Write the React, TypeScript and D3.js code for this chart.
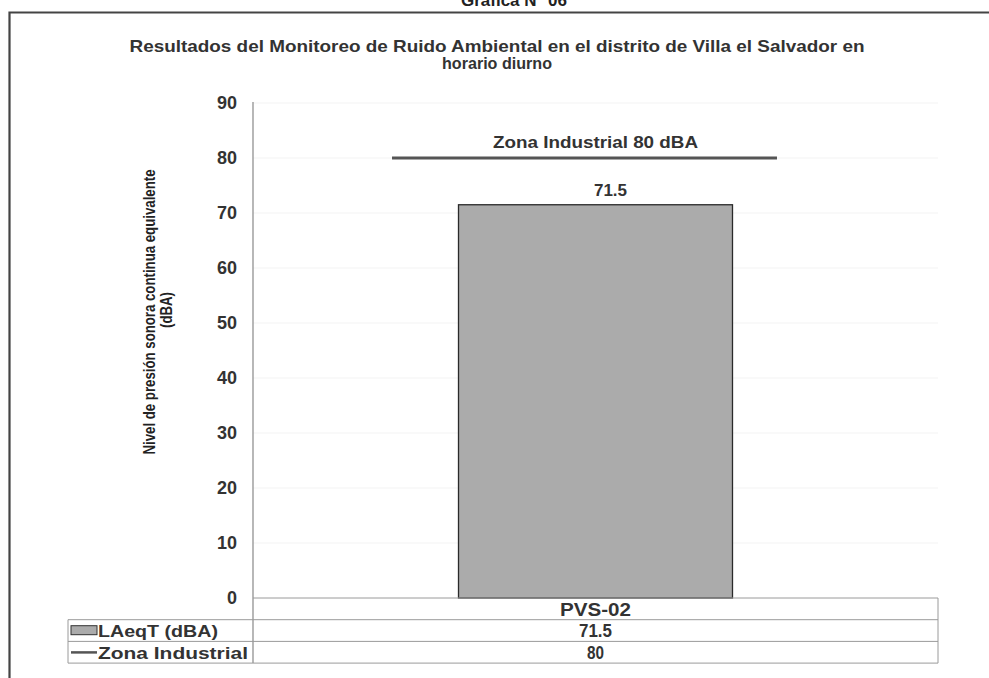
import React from "react";
import * as d3 from "d3";

const categories: string[] = ["PVS-02"];
const laeqValues: number[] = [71.5];
const zonaIndustrial: number[] = [80];
const yTicks: number[] = [0, 10, 20, 30, 40, 50, 60, 70, 80, 90];
const seriesNames: string[] = ["LAeqT (dBA)", "Zona Industrial"];
const titleLines: string[] = [
  "Resultados del Monitoreo de Ruido Ambiental en el distrito de Villa el Salvador en",
  "horario diurno",
];
const axisTitleLines: string[] = ["Nivel de presión sonora continua equivalente", "(dBA)"];
const figureTitle = "Gráfica N° 06";
const limitLabel = "Zona Industrial 80 dBA";

const W = 989;
const H = 678;
const plotLeft = 253;
const plotRight = 938;
const plotTop = 103;
const plotBottom = 598;
const rowH = 21.7;
const tableLeft = 68;
const FONT = "Arial, 'Liberation Sans', Helvetica, sans-serif";

export default function App() {
  const y = d3.scaleLinear().domain([0, 90]).range([plotBottom, plotTop]);
  const x = d3
    .scaleBand<string>()
    .domain(categories)
    .range([plotLeft, plotRight])
    .paddingInner(0.6)
    .paddingOuter(0.3);
  const band = d3.scaleBand<string>().domain(categories).range([plotLeft, plotRight]);

  const rows = [categories, laeqValues.map(String), zonaIndustrial.map(String)];
  const rowWidths = [71, 33, 17];

  return (
    <svg
      width={W}
      height={H}
      style={{ position: "absolute", left: 0, top: 0, background: "#fff" }}
      fontFamily={FONT}
    >
      <rect x={0} y={0} width={W} height={H} fill="#fff" />
      {/* figure caption (cut off at top, as in the source page) */}
      <text x={514} y={6} textAnchor="middle" fontSize={17} fontWeight="bold" fill="#222">
        {figureTitle}
      </text>
      {/* outer frame */}
      <path d={`M9.5,${H + 5} L9.5,12.5 L${W + 5},12.5`} fill="none" stroke="#444" strokeWidth={2.2} />

      {/* title */}
      <text x={497} y={52} textAnchor="middle" fontSize={16.5} fontWeight="bold" fill="#333"
        textLength={735} lengthAdjust="spacingAndGlyphs">
        {titleLines[0]}
      </text>
      <text x={497} y={69} textAnchor="middle" fontSize={16.5} fontWeight="bold" fill="#333"
        textLength={110} lengthAdjust="spacingAndGlyphs">
        {titleLines[1]}
      </text>

      {/* gridlines */}
      {yTicks.slice(1).map((t) => (
        <line key={"g" + t} x1={plotLeft} x2={plotRight} y1={y(t)} y2={y(t)} stroke="#f3f3f3" strokeWidth={1} />
      ))}

      {/* y axis title */}
      <g transform={`translate(155,312) rotate(-90)`}>
        <text x={0} y={0} textAnchor="middle" fontSize={17} fontWeight="bold" fill="#222"
          textLength={285} lengthAdjust="spacingAndGlyphs">
          {axisTitleLines[0]}
        </text>
        <text x={2} y={17} textAnchor="middle" fontSize={17} fontWeight="bold" fill="#222"
          textLength={36} lengthAdjust="spacingAndGlyphs">
          {axisTitleLines[1]}
        </text>
      </g>

      {/* y tick labels */}
      {yTicks.map((t) => (
        <text key={t} x={237} y={y(t) + 6} textAnchor="end" fontSize={18} fontWeight="bold" fill="#333">
          {t}
        </text>
      ))}
      {/* y axis line */}
      <line x1={plotLeft} x2={plotLeft} y1={plotTop - 1} y2={plotBottom + rowH * 3} stroke="#888" strokeWidth={1.2} />

      {/* bars */}
      {categories.map((c, i) => (
        <g key={c}>
          <rect
            x={x(c)!}
            y={y(laeqValues[i])}
            width={x.bandwidth()}
            height={y(0) - y(laeqValues[i])}
            fill="#ababab"
            stroke="#2a2a2a"
            strokeWidth={1.3}
          />
          <text x={x(c)! + x.bandwidth() / 2 + 15} y={y(laeqValues[i]) - 9} textAnchor="middle"
            fontSize={17} fontWeight="bold" fill="#333">
            {laeqValues[i]}
          </text>
        </g>
      ))}

      {/* Zona industrial limit line */}
      {categories.map((c, i) => {
        const cx = band(c)! + band.bandwidth() / 2;
        const half = band.bandwidth() * 0.281;
        return (
          <g key={"z" + c}>
            <line x1={cx - 11 - half} x2={cx - 11 + half} y1={y(zonaIndustrial[i])} y2={y(zonaIndustrial[i])}
              stroke="#555" strokeWidth={3} />
            <text x={cx} y={y(zonaIndustrial[i]) - 10} textAnchor="middle" fontSize={17} fontWeight="bold" fill="#333"
              textLength={205} lengthAdjust="spacingAndGlyphs">
              {limitLabel}
            </text>
          </g>
        );
      })}

      {/* data table */}
      <g stroke="#9a9a9a" strokeWidth={1}>
        <line x1={plotLeft} x2={plotRight} y1={plotBottom} y2={plotBottom} />
        <line x1={tableLeft} x2={plotRight} y1={plotBottom + rowH} y2={plotBottom + rowH} />
        <line x1={tableLeft} x2={plotRight} y1={plotBottom + rowH * 2} y2={plotBottom + rowH * 2} />
        <line x1={tableLeft} x2={plotRight} y1={plotBottom + rowH * 3} y2={plotBottom + rowH * 3} />
        <line x1={tableLeft} x2={tableLeft} y1={plotBottom + rowH} y2={plotBottom + rowH * 3} />
        <line x1={plotRight} x2={plotRight} y1={plotBottom} y2={plotBottom + rowH * 3} />
      </g>
      {rows.map((r, ri) =>
        categories.map((c, ci) => (
          <text key={ri + "-" + ci} x={band(c)! + band.bandwidth() / 2} y={plotBottom + rowH * ri + 17.5}
            textAnchor="middle" fontSize={18} fontWeight="bold" fill="#333"
            textLength={rowWidths[ri]} lengthAdjust="spacingAndGlyphs">
            {r[ci]}
          </text>
        ))
      )}
      {/* legend keys */}
      <rect x={71} y={plotBottom + rowH + 6} width={26} height={9} fill="#ababab" stroke="#333" strokeWidth={1} />
      <line x1={71} x2={97} y1={plotBottom + rowH * 2 + 11} y2={plotBottom + rowH * 2 + 11} stroke="#555" strokeWidth={2.5} />
      <text x={98} y={plotBottom + rowH + 17.5} fontSize={17} fontWeight="bold" fill="#333"
        textLength={120} lengthAdjust="spacingAndGlyphs">
        {seriesNames[0]}
      </text>
      <text x={98} y={plotBottom + rowH * 2 + 17.5} fontSize={17} fontWeight="bold" fill="#333"
        textLength={150} lengthAdjust="spacingAndGlyphs">
        {seriesNames[1]}
      </text>
    </svg>
  );
}
